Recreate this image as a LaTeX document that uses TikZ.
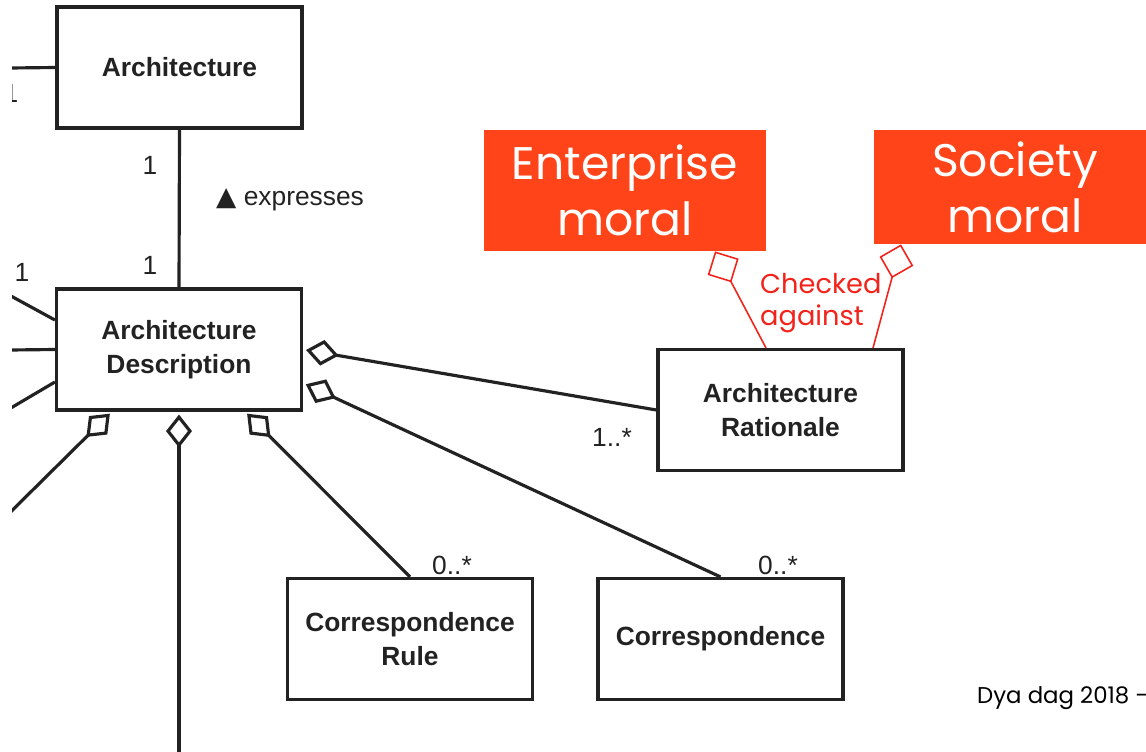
\documentclass[tikz,border=0pt]{standalone}
\usepackage{fontspec}
\setmainfont{Liberation Sans}
\newfontfamily\gothic{Poppins}
\newfontfamily\symbolfont{DejaVu Sans}
\usetikzlibrary{arrows.meta}
\definecolor{moralred}{HTML}{FF4419}
\definecolor{checkred}{HTML}{F2231A}
\definecolor{umlgray}{HTML}{222222}

\begin{document}
\begin{tikzpicture}
\useasboundingbox (0,0) rectangle (22.92,-15.04);
\clip (0.24,0) rectangle (22.92,-15.04);

\begin{scope}[every node/.style={rectangle,draw=umlgray,line width=1.8pt,fill=white,text=umlgray,minimum width=4.9cm,minimum height=2.42cm,align=center,font=\fontsize{15}{19.3}\selectfont\bfseries}]
    \node (arch) at (3.59,-1.35) {Architecture};
    \node (desc) at (3.58,-6.99) {Architecture\\Description};
    \node (rat) at (15.61,-8.2) {Architecture\\Rationale};
    \node (rule) at (8.2,-12.78) {Correspondence\\Rule};
    \node (corr) at (14.41,-12.78) {Correspondence};
\end{scope}

\begin{scope}[every node/.style={rectangle,fill=moralred,text=white,minimum width=5.64cm,align=center,font=\gothic\fontsize{26}{31.7}\selectfont}]
    \node (ent) at (12.5,-3.81) [minimum height=2.42cm] {Enterprise\\moral};
    \node (soc) at (20.3,-3.74) [minimum height=2.28cm] {Society\\moral};
\end{scope}

% loose ends at the left and bottom border
\coordinate (archleft) at (0.2,-1.36);
\coordinate (descup) at (0.2,-5.91);
\coordinate (descmid) at (0.2,-7.0);
\coordinate (desclow) at (0.2,-8.17);
\coordinate (descdiag) at (0.2,-10.25);
\coordinate (descdown) at (3.58,-15.2);

\begin{scope}[every edge/.style={draw=umlgray,line width=1.8pt},
              agg/.style={-{Diamond[open,length=0.66cm,width=0.52cm]},shorten >=0.06cm}]
    \path (archleft) edge (arch.west);
    \path (arch.south) edge (desc.north);
    \path (descup) edge ([yshift=0.59cm]desc.west);
    \path (descmid) edge (desc.west);
    \path (desclow) edge ([yshift=-0.65cm]desc.west);
    \path [agg] (descdiag) edge ([xshift=-1.34cm]desc.south);
    \path [agg] (descdown) edge (desc.south);
    \path [agg] (rule.north) edge ([xshift=1.32cm]desc.south);
    \path [agg] (rat.west) edge (desc.east);
    \path [agg] (corr.north) edge ([yshift=-0.67cm]desc.east);
\end{scope}

\begin{scope}[every edge/.style={draw=checkred,line width=0.9pt},
              check/.style={-{Diamond[open,length=0.7cm,width=0.7cm]}}]
    \path [check] ([xshift=-0.29cm]rat.north) edge ([xshift=1.8cm]ent.south);
    \path [check] ([xshift=1.85cm]rat.north) edge ([xshift=-2.28cm]soc.south);
\end{scope}

\begin{scope}[every node/.style={text=umlgray,font=\fontsize{15}{18}\selectfont}]
    \node (archone) at (0.22,-1.86) {1};
    \node (exprone) at (3.0,-3.3) {1};
    \node (descone) at (3.0,-5.3) {1};
    \node (leftone) at (0.44,-5.44) {1};
    \node (expresses) at (4.2,-3.99) [anchor=west] {{\symbolfont\fontsize{15}{15}\selectfont ▲} expresses};
    \node (ratmult) at (12.24,-8.74) {1..*};
    \node (rulemult) at (9.04,-11.3) {0..*};
    \node (corrmult) at (15.56,-11.3) {0..*};
\end{scope}

\node (checked) at (15.08,-6.06) [anchor=west,align=left,text=checkred,font=\gothic\fontsize{15.5}{18.5}\selectfont] {Checked\\against};
\node (footer) at (19.42,-13.96) [anchor=west,font=\gothic\fontsize{13}{15}\selectfont] {Dya dag 2018 -};
\end{tikzpicture}
\end{document}
